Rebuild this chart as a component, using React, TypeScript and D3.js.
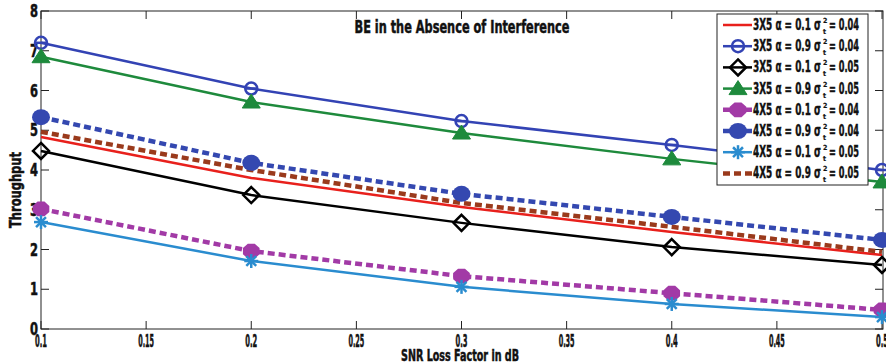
import { useEffect, useRef } from "react";
import * as d3 from "d3";

const snrLoss = [0.1, 0.2, 0.3, 0.4, 0.5];
const xTicks = [0.1, 0.15, 0.2, 0.25, 0.3, 0.35, 0.4, 0.45, 0.5];
const yTicks = [0, 1, 2, 3, 4, 5, 6, 7, 8];

const be3x5a01s004 = [4.83, 3.8, 3.07, 2.44, 1.86];
const be3x5a09s004 = [7.2, 6.05, 5.23, 4.63, 4.0];
const be3x5a01s005 = [4.48, 3.37, 2.67, 2.06, 1.61];
const be3x5a09s005 = [6.85, 5.71, 4.93, 4.28, 3.7];
const be4x5a01s004 = [3.02, 1.96, 1.33, 0.9, 0.48];
const be4x5a09s004 = [5.33, 4.18, 3.4, 2.82, 2.24];
const be4x5a01s005 = [2.69, 1.71, 1.06, 0.63, 0.3];
const be4x5a09s005 = [4.96, 4.0, 3.17, 2.57, 1.94];

const legendLabels = [
  ["3X5 \u03b1 = 0.1 \u03c3", "= 0.04"],
  ["3X5 \u03b1 = 0.9 \u03c3", "= 0.04"],
  ["3X5 \u03b1 = 0.1 \u03c3", "= 0.05"],
  ["3X5 \u03b1 = 0.9 \u03c3", "= 0.05"],
  ["4X5 \u03b1 = 0.1 \u03c3", "= 0.04"],
  ["4X5 \u03b1 = 0.9 \u03c3", "= 0.04"],
  ["4X5 \u03b1 = 0.1 \u03c3", "= 0.05"],
  ["4X5 \u03b1 = 0.9 \u03c3", "= 0.05"],
];

type Marker = "none" | "ocircle" | "diamond" | "triangle" | "octagon" | "disc" | "star";

interface Series {
  values: number[];
  color: string;
  dashed: boolean;
  marker: Marker;
}

const series: Series[] = [
  { values: be3x5a01s004, color: "#e8201c", dashed: false, marker: "none" },
  { values: be3x5a09s004, color: "#3343b4", dashed: false, marker: "ocircle" },
  { values: be3x5a01s005, color: "#000000", dashed: false, marker: "diamond" },
  { values: be3x5a09s005, color: "#1e8a3c", dashed: false, marker: "triangle" },
  { values: be4x5a01s004, color: "#a23aa6", dashed: true, marker: "octagon" },
  { values: be4x5a09s004, color: "#3448b0", dashed: true, marker: "disc" },
  { values: be4x5a01s005, color: "#2a8ccf", dashed: false, marker: "star" },
  { values: be4x5a09s005, color: "#9a3a1c", dashed: true, marker: "none" },
];

const FONT = "'DejaVu Sans Condensed', 'Liberation Sans Narrow', sans-serif";

type G = d3.Selection<SVGGElement, unknown, null, undefined>;

// condensed bold text squeezed to the width it has in the picture
function fitText(g: G, str: string, x: number, y: number, size: number, width: number, anchor = "start") {
  return g.append("text")
    .attr("x", x).attr("y", y)
    .attr("font-size", size)
    .attr("text-anchor", anchor)
    .attr("textLength", width)
    .attr("lengthAdjust", "spacingAndGlyphs")
    .text(str);
}

function drawMarker(g: G, kind: Marker, cx: number, cy: number, color: string) {
  if (kind === "ocircle") {
    g.append("circle").attr("cx", cx).attr("cy", cy).attr("r", 6)
      .attr("fill", "none").attr("stroke", color).attr("stroke-width", 2.5);
    g.append("line").attr("x1", cx - 6).attr("x2", cx + 6).attr("y1", cy).attr("y2", cy)
      .attr("stroke", color).attr("stroke-width", 2.5);
  } else if (kind === "diamond") {
    const s = 8;
    g.append("path")
      .attr("d", `M${cx},${cy - s}L${cx + s},${cy}L${cx},${cy + s}L${cx - s},${cy}Z`)
      .attr("fill", "none").attr("stroke", color).attr("stroke-width", 2.5);
  } else if (kind === "triangle") {
    g.append("path")
      .attr("d", `M${cx},${cy - 8}L${cx + 9},${cy + 6}L${cx - 9},${cy + 6}Z`)
      .attr("fill", color).attr("stroke", color).attr("stroke-width", 1);
  } else if (kind === "octagon") {
    const pts = d3.range(8).map((i) => {
      const a = Math.PI / 8 + (i * Math.PI) / 4;
      return [cx + 9 * Math.cos(a), cy + 8 * Math.sin(a)];
    });
    g.append("path").attr("d", "M" + pts.map((p) => p.join(",")).join("L") + "Z")
      .attr("fill", color);
  } else if (kind === "disc") {
    g.append("ellipse").attr("cx", cx).attr("cy", cy).attr("rx", 9).attr("ry", 8)
      .attr("fill", color);
  } else if (kind === "star") {
    for (let i = 0; i < 4; i++) {
      const a = (i * Math.PI) / 4;
      g.append("line")
        .attr("x1", cx - 7 * Math.cos(a)).attr("y1", cy - 7 * Math.sin(a))
        .attr("x2", cx + 7 * Math.cos(a)).attr("y2", cy + 7 * Math.sin(a))
        .attr("stroke", color).attr("stroke-width", 2.5);
    }
  }
}

export default function App() {
  const ref = useRef<SVGSVGElement>(null);

  useEffect(() => {
    const svg = d3.select(ref.current!);
    svg.selectAll("*").remove();

    const left = 41, right = 883, top = 11, bottom = 329;
    const x = d3.scaleLinear().domain([0.1, 0.5]).range([left, 882]);
    const y = d3.scaleLinear().domain([0, 8]).range([bottom, top]);

    svg.append("rect").attr("width", 886).attr("height", 364).attr("fill", "#fff");

    // box
    svg.append("rect")
      .attr("x", left).attr("y", top).attr("width", right - left).attr("height", bottom - top)
      .attr("fill", "none").attr("stroke", "#222").attr("stroke-width", 1);

    // ticks on all four sides
    const tk = svg.append("g").attr("stroke", "#222").attr("stroke-width", 1);
    xTicks.forEach((t) => {
      tk.append("line").attr("x1", x(t)).attr("x2", x(t)).attr("y1", bottom).attr("y2", bottom - 8);
      tk.append("line").attr("x1", x(t)).attr("x2", x(t)).attr("y1", top).attr("y2", top + 8);
    });
    yTicks.forEach((t) => {
      tk.append("line").attr("x1", left).attr("x2", left + 8).attr("y1", y(t)).attr("y2", y(t));
      tk.append("line").attr("x1", right).attr("x2", right - 8).attr("y1", y(t)).attr("y2", y(t));
    });

    // text gets a thin outline so the squeezed glyphs keep a heavy look
    const labels: G = svg.append("g").attr("font-family", FONT).attr("font-weight", "bold")
      .attr("fill", "#111").attr("stroke", "#111").attr("stroke-width", 0.5);
    xTicks.forEach((t) => {
      const s = String(+t.toFixed(2));
      fitText(labels, s, x(t), bottom + 18, 17, s.length === 3 ? 12 : 16, "middle");
    });
    yTicks.forEach((t) => {
      fitText(labels, String(t), left - 3, y(t) + 6, 17, 8, "end");
    });

    fitText(labels, "SNR Loss Factor in dB", 460, 361, 16, 118, "middle");
    labels.append("text")
      .attr("transform", "translate(21,190) rotate(-90)")
      .attr("font-size", 16).attr("text-anchor", "middle")
      .attr("textLength", 76).attr("lengthAdjust", "spacingAndGlyphs")
      .text("Throughput");
    fitText(labels, "BE in the Absence of Interference", 462, 33, 18, 215, "middle");

    // series
    const line = d3.line<number>().x((_, i) => x(snrLoss[i])).y((d) => y(d));
    const plot = svg.append("g");
    series.forEach((s) => {
      plot.append("path").attr("d", line(s.values)!)
        .attr("fill", "none").attr("stroke", s.color)
        .attr("stroke-width", s.dashed ? 4.5 : 2.5)
        .attr("stroke-dasharray", s.dashed ? "7,4" : null);
    });
    series.forEach((s) => {
      const mg = plot.append("g");
      s.values.forEach((v, i) => drawMarker(mg, s.marker, x(snrLoss[i]), y(v), s.color));
    });

    // legend
    const lx = 717, ly = 14, lw = 151, lh = 171;
    const lg: G = svg.append("g");
    lg.append("rect").attr("x", lx).attr("y", ly).attr("width", lw).attr("height", lh)
      .attr("fill", "#fff").attr("stroke", "#222").attr("stroke-width", 1);
    series.forEach((s, i) => {
      const cy = ly + 11 + i * 21.2;
      lg.append("line").attr("x1", lx + 6).attr("x2", lx + 35).attr("y1", cy).attr("y2", cy)
        .attr("stroke", s.color).attr("stroke-width", s.dashed ? 4.5 : 2.5)
        .attr("stroke-dasharray", s.dashed ? "7,4" : null);
      drawMarker(lg, s.marker, lx + 21, cy, s.color);
      const tg: G = lg.append("g").attr("font-family", FONT).attr("font-weight", "bold")
        .attr("fill", "#111").attr("stroke", "#111").attr("stroke-width", 0.4);
      fitText(tg, legendLabels[i][0], 753, cy + 5, 15, 68);
      tg.append("text").attr("x", 823).attr("y", cy - 2).attr("font-size", 7)
        .attr("stroke-width", 0.2).text("2");
      tg.append("text").attr("x", 823).attr("y", cy + 9).attr("font-size", 7)
        .attr("stroke-width", 0.2).text("t");
      fitText(tg, legendLabels[i][1], 829, cy + 5, 15, 30);
    });
  }, []);

  return (
    <svg
      ref={ref}
      width={886}
      height={364}
      style={{ position: "absolute", left: 0, top: 0 }}
    />
  );
}
